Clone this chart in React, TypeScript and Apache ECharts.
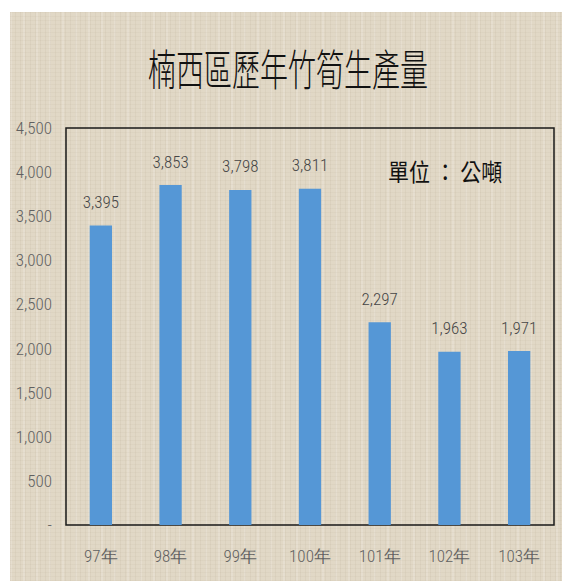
import React, { useEffect, useRef } from "react";
import * as echarts from "echarts";

const categories = ["97年", "98年", "99年", "100年", "101年", "102年", "103年"];
const production = [3395, 3853, 3798, 3811, 2297, 1963, 1971];
const titleText = "楠西區歷年竹筍生產量";
const unitText = "單位 ： 公噸";

const NARROW = '"Liberation Sans Narrow", "Arial Narrow", "Roboto Condensed", "Liberation Sans", sans-serif';
const CJK = '"Noto Sans CJK TC", "Noto Sans CJK SC", sans-serif';

export default function App() {
  const ref = useRef<HTMLDivElement>(null);
  useEffect(() => {
    document.body.style.margin = "0";
    if (!ref.current) return;
    const chart = echarts.init(ref.current, null, { renderer: "svg" });
    chart.setOption({
      animation: false,
      backgroundColor: "transparent",
      grid: {
        left: 66,
        right: 8,
        top: 128,
        bottom: 56,
        show: true,
        borderColor: "#1a1a1a",
        borderWidth: 1.5,
        backgroundColor: "transparent",
      },
      xAxis: {
        type: "category",
        data: categories,
        axisLine: { show: false },
        axisTick: { show: false },
        axisLabel: {
          color: "#606060",
          fontFamily: NARROW,
          fontWeight: 300,
          fontSize: 17,
          margin: 22,
        },
      },
      yAxis: {
        type: "value",
        min: 0,
        max: 4500,
        interval: 500,
        axisLine: { show: false },
        axisTick: { show: false },
        splitLine: { show: false },
        axisLabel: {
          color: "#606060",
          fontFamily: NARROW,
          fontWeight: 300,
          fontSize: 17,
          margin: 14,
          formatter: (v: number) => (v === 0 ? "-" : v.toLocaleString("en-US")),
        },
      },
      series: [
        {
          type: "bar",
          data: production,
          barWidth: "32%",
          itemStyle: { color: "#5597d6" },
          label: {
            show: true,
            position: "top",
            distance: 15,
            color: "#454545",
            fontFamily: NARROW,
            fontWeight: 300,
            fontSize: 17,
            formatter: (p: any) => Number(p.value).toLocaleString("en-US"),
          },
        },
      ],
      graphic: [
        {
          type: "text",
          x: 288,
          y: 68,
          scaleY: 1.55,
          style: {
            text: titleText,
            fontFamily: CJK,
            fontWeight: 300,
            fontSize: 28,
            fill: "#111",
            textAlign: "center",
            textVerticalAlign: "middle",
          },
        },
        {
          type: "text",
          x: 388,
          y: 171,
          scaleY: 1.15,
          style: {
            text: unitText,
            fontFamily: CJK,
            fontWeight: 400,
            fontSize: 21,
            fill: "#111",
            textAlign: "left",
            textVerticalAlign: "middle",
          },
        },
      ],
    });
    return () => chart.dispose();
  }, []);

  const texture =
    "repeating-linear-gradient(90deg, rgba(140,120,90,0.07) 0px, rgba(140,120,90,0.07) 1px, transparent 1px, transparent 5px)," +
    "repeating-linear-gradient(0deg, rgba(140,120,90,0.05) 0px, rgba(140,120,90,0.05) 1px, transparent 1px, transparent 4px)," +
    "repeating-linear-gradient(90deg, rgba(255,255,255,0.16) 0px, rgba(255,255,255,0.16) 2px, transparent 2px, transparent 13px)";

  return (
    <div style={{ position: "relative", width: 562, height: 581, background: "#ffffff", overflow: "hidden" }}>
      <div
        style={{
          position: "absolute",
          left: 10,
          top: 12,
          width: 552,
          height: 569,
          backgroundColor: "#e1d8c6",
          backgroundImage: texture,
        }}
      />
      <div ref={ref} style={{ position: "absolute", left: 0, top: 0, width: 562, height: 581 }} />
    </div>
  );
}
